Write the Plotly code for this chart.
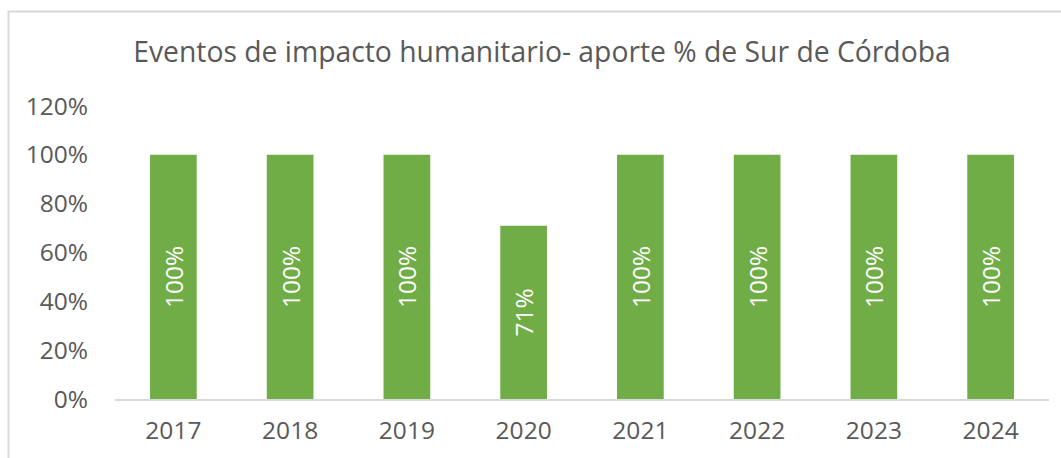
import plotly.graph_objects as go

years = ["2017", "2018", "2019", "2020", "2021", "2022", "2023", "2024"]
share = [1.00, 1.00, 1.00, 0.71, 1.00, 1.00, 1.00, 1.00]
labels = ["100%", "100%", "100%", "71%", "100%", "100%", "100%", "100%"]
ytick_vals = [0, 0.2, 0.4, 0.6, 0.8, 1.0, 1.2]
ytick_text = ["0%", "20%", "40%", "60%", "80%", "100%", "120%"]

FONT = "Open Sans"
GREY = "#595959"

fig = go.Figure(go.Bar(
    x=years, y=share, text=labels,
    textposition="inside", insidetextanchor="middle", textangle=-90,
    textfont=dict(family=FONT, size=24.5, color="#FFFFFF"),
    marker=dict(color="#70AD47", line=dict(width=0)),
    cliponaxis=False,
))

W, H = 1061, 458
L, R, T, B = 115, 12, 106, 59
pw = W - L - R
ph = H - T - B

fig.update_layout(
    width=W, height=H,
    margin=dict(l=L, r=R, t=T, b=B, autoexpand=False),
    paper_bgcolor="white", plot_bgcolor="white",
    bargap=0.6,
    showlegend=False,
    title=dict(text="Eventos de impacto humanitario- aporte % de Sur de Córdoba",
               x=542 / W, xanchor="center", xref="container",
               y=1 - 52 / H, yanchor="middle", yref="container",
               font=dict(family=FONT, size=28.3, color=GREY)),
    xaxis=dict(showgrid=False, showline=True, linecolor="#D9D9D9", linewidth=2,
               ticks="", tickfont=dict(family=FONT, size=24.5, color=GREY),
               ticklabelstandoff=9, automargin=False),
    yaxis=dict(range=[0, 1.2], tickvals=ytick_vals, ticktext=ytick_text,
               showgrid=False, zeroline=False, showline=False, ticks="",
               tickfont=dict(family=FONT, size=24.5, color=GREY),
               ticklabelstandoff=26, automargin=False),
)

# chart-area border (left and top edges visible in frame)
fig.add_shape(type="rect", xref="paper", yref="paper",
              x0=(8.5 - L) / pw, x1=(1080 - L) / pw,
              y0=(H - B - 470) / ph, y1=(H - B - 11.5) / ph,
              line=dict(color="#D9D9D9", width=2), fillcolor="rgba(0,0,0,0)",
              layer="below")

fig.write_html("out.html", config={"displayModeBar": False},
               post_script="document.body.style.margin='0';")
